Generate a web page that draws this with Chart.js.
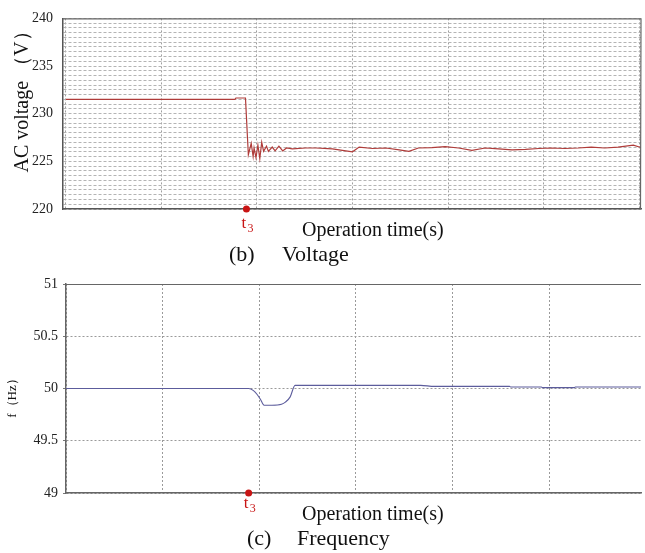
<!DOCTYPE html>
<html>
<head>
<meta charset="utf-8">
<script src="https://cdn.jsdelivr.net/npm/chart.js@4.4.1/dist/chart.umd.min.js"></script>
<style>
  body { margin: 0; background: #fff; }
  canvas { position: absolute; left: 0; }
</style>
</head>
<body>
<canvas id="voltChart" width="645" height="268" style="top:0"></canvas>
<canvas id="freqChart" width="645" height="283" style="top:270px"></canvas>
<script>
// voltage (b)
const voltTime = [0, 17.7, 17.8, 18.8, 19.1, 19.4, 19.6, 19.7, 19.9, 20.1, 20.3, 20.5, 20.7, 21.0, 21.2, 21.6, 21.9, 22.3, 22.7, 23.1, 23.7, 25.1, 26.2, 27.9, 29.3, 30.0, 30.7, 32.1, 33.5, 34.9, 35.9, 36.9, 38.3, 39.7, 41.1, 42.5, 43.9, 45.3, 46.7, 48.1, 49.5, 50.8, 52.2, 53.6, 55.0, 56.4, 57.8, 59.4, 60.2];
const voltValue = [231.5, 231.5, 231.65, 231.65, 225.7, 226.9, 225.5, 226.4, 225.4, 226.7, 225.3, 227.0, 226.05, 226.6, 226.05, 226.5, 226.1, 226.6, 226.1, 226.4, 226.3, 226.4, 226.4, 226.3, 226.1, 226.0, 226.5, 226.35, 226.4, 226.2, 226.05, 226.4, 226.45, 226.55, 226.4, 226.15, 226.4, 226.3, 226.2, 226.25, 226.35, 226.4, 226.35, 226.4, 226.5, 226.4, 226.5, 226.7, 226.45];

// frequency (c)
const freqTime = [0, 18.9, 19.4, 19.8, 20.1, 20.5, 21.3, 22.3, 22.7, 23.2, 23.7, 30, 36.7, 38.1, 45.9, 46.0, 49.2, 49.3, 52.6, 52.7, 59.5];
const freqValue = [50.0, 50.0, 49.98, 49.94, 49.90, 49.84, 49.84, 49.85, 49.87, 49.92, 50.03, 50.03, 50.03, 50.02, 50.02, 50.015, 50.015, 50.008, 50.008, 50.015, 50.015];

const gridTimes = [0, 10, 20, 30, 40, 50, 60];
const t3Time = 18.9;

const serif = "'Liberation Serif', 'Times New Roman', serif";
const red = '#c81414';

function toPoints(xs, ys) {
  return xs.map((x, i) => ({ x: x, y: ys[i] }));
}

function setGridTicks(scale) {
  scale.ticks = gridTimes.filter(v => v >= scale.min && v <= scale.max).map(v => ({ value: v }));
}

// labels, t3 text and the top/right frame
function labelsPlugin(opts) {
  return {
    id: 'labels',
    afterDraw(chart) {
      const ctx = chart.ctx;
      const area = chart.chartArea;
      ctx.save();
      ctx.strokeStyle = '#666';
      ctx.lineWidth = 1.2;
      ctx.beginPath();
      ctx.moveTo(area.left, area.top + 0.5);
      ctx.lineTo(area.right, area.top + 0.5);
      if (opts.rightBorder) ctx.lineTo(area.right - 0.5, area.bottom);
      ctx.stroke();

      ctx.fillStyle = '#111';
      // rotated y title
      ctx.save();
      ctx.translate(opts.yTitle.x, opts.yTitle.y);
      ctx.rotate(-Math.PI / 2);
      ctx.textAlign = 'center';
      ctx.textBaseline = 'alphabetic';
      ctx.font = opts.yTitle.size + 'px ' + serif;
      ctx.fillText(opts.yTitle.text, 0, 0);
      ctx.restore();

      ctx.textAlign = 'left';
      ctx.textBaseline = 'alphabetic';
      ctx.font = '20px ' + serif;
      ctx.fillText('Operation time(s)', 302, opts.xTitleY);

      ctx.font = '22px ' + serif;
      ctx.fillText(opts.caption[0], opts.caption[1], opts.captionY);
      ctx.fillText(opts.caption[2], opts.caption[3], opts.captionY);

      // t3 label under the marker
      const mx = chart.scales.x.getPixelForValue(t3Time);
      ctx.fillStyle = red;
      ctx.font = '17px ' + serif;
      ctx.fillText('t', mx - 5, opts.t3Y);
      ctx.font = '12px ' + serif;
      ctx.fillText('3', mx + 1, opts.t3Y + 4);
      ctx.restore();
    }
  };
}

new Chart(document.getElementById('voltChart'), {
  type: 'line',
  data: {
    datasets: [{
      data: toPoints(voltTime, voltValue),
      borderColor: '#b03c3a',
      borderWidth: 1.2,
      pointRadius: 0,
      tension: 0
    }, {
      data: [{ x: t3Time, y: 220 }],
      showLine: false,
      pointRadius: 3.5,
      pointBackgroundColor: red,
      pointBorderWidth: 0,
      clip: false
    }]
  },
  options: {
    responsive: false,
    animation: false,
    layout: { padding: { top: 14, right: 2, bottom: 59, left: 0 } },
    plugins: { legend: { display: false }, tooltip: { enabled: false } },
    scales: {
      x: {
        type: 'linear',
        min: -0.3,
        max: 60.2,
        afterBuildTicks: setGridTicks,
        ticks: { display: false },
        grid: { color: '#a0a0a0', drawTicks: false },
        border: { color: '#555', width: 1.5, dash: [2, 2] },
        afterFit(s) { s.height = 0; }
      },
      y: {
        min: 220,
        max: 240,
        ticks: {
          stepSize: 0.5,
          autoSkip: false,
          padding: 10,
          color: '#222',
          font: { family: serif, size: 14 },
          callback: v => (v % 5 === 0 ? v : '')
        },
        grid: { color: '#b4b4b4', drawTicks: false },
        border: { color: '#555', width: 1.5, dash: [3, 2] },
        afterFit(s) { s.width = 63; }
      }
    }
  },
  plugins: [labelsPlugin({
    rightBorder: true,
    yTitle: { text: 'AC voltage （V）', x: 28, y: 97, size: 20 },
    xTitleY: 236,
    caption: ['(b)', 229, 'Voltage', 282],
    captionY: 261,
    t3Y: 228
  })]
});

new Chart(document.getElementById('freqChart'), {
  type: 'line',
  data: {
    datasets: [{
      data: toPoints(freqTime, freqValue),
      borderColor: '#5c5c9c',
      borderWidth: 1.1,
      pointRadius: 0,
      cubicInterpolationMode: 'monotone'
    }, {
      data: [{ x: t3Time, y: 49 }],
      showLine: false,
      pointRadius: 3.5,
      pointBackgroundColor: red,
      pointBorderWidth: 0,
      clip: false
    }]
  },
  options: {
    responsive: false,
    animation: false,
    layout: { padding: { top: 14, right: 0, bottom: 60, left: 0 } },
    plugins: { legend: { display: false }, tooltip: { enabled: false } },
    scales: {
      x: {
        type: 'linear',
        min: 0,
        max: 59.5,
        afterBuildTicks: setGridTicks,
        ticks: { display: false },
        grid: { color: '#9a9a9a', drawTicks: false },
        border: { color: '#666', width: 1.5, dash: [2, 2] },
        afterFit(s) { s.height = 0; }
      },
      y: {
        min: 49,
        max: 51,
        ticks: {
          stepSize: 0.5,
          padding: 5,
          color: '#222',
          font: { family: serif, size: 14 },
          callback: v => String(v)
        },
        grid: { color: '#9a9a9a', tickLength: 3, tickColor: '#777', tickBorderDash: [] },
        border: { color: '#666', width: 1.5, dash: [2, 2] },
        afterFit(s) { s.width = 66; }
      }
    }
  },
  plugins: [labelsPlugin({
    rightBorder: false,
    yTitle: { text: 'f（Hz）', x: 16, y: 125, size: 13 },
    xTitleY: 250,
    caption: ['(c)', 247, 'Frequency', 297],
    captionY: 275,
    t3Y: 238
  })]
});
</script>
</body>
</html>
